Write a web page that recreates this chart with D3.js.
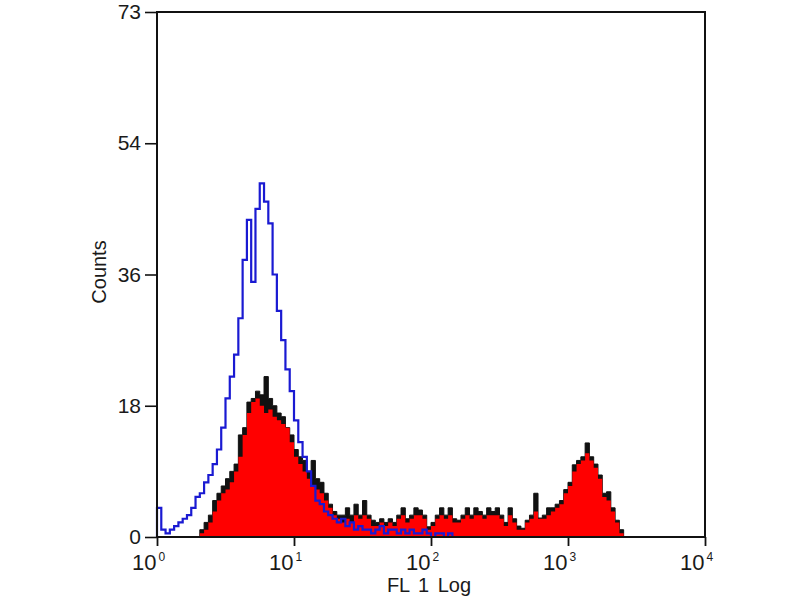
<!DOCTYPE html>
<html>
<head>
<meta charset="utf-8">
<script src="https://cdn.jsdelivr.net/npm/d3@7/dist/d3.min.js"></script>
<style>
  html, body { margin: 0; padding: 0; background: #fff; }
  svg text { font-family: "Liberation Sans", Arial, Helvetica, sans-serif; fill: #1a1a1a; }
</style>
</head>
<body>
<svg id="chart" width="800" height="600"></svg>
<script>
// ---- data (128 log-spaced channels over 10^0 .. 10^4) ----
const blueControl = [
  4,1,0.5,1,1.5,2,2.5,3,4,5.5,6,7.5,8.5,10,12,15,
  19,22,25,30,38,43.5,35,45,48.5,46,43,36,31,27,23,20,
  16,13,11,9,7,5,4.5,3.5,3,2.5,2,2.5,1.5,2,1,1.5,
  1,1,0.5,1,1.5,0.5,1,1,0.5,1,0.5,1,0.5,0.5,1,0.5,
  0,0.5,0.5,0,0.5,0,0,0,0,0,0,0,0,0,0,0,
  0,0,0,0,0,0,0,0,0,0,0,0,0,0,0,0,
  0,0,0,0,0,0,0,0,0,0,0,0,0,0,0,0,
  0,0,0,0,0,0,0,0,0,0,0,0,0,0,0,0
];
const redSample = [
  0,0,0,0,0,0,0,0,0,0,0.5,1,2,3.5,5,6,
  6.5,7.5,9,11,14,17,18.5,19,18,17,17.5,16.5,16,15.5,15,13,
  11,10,9,8,7,6.5,6,5,4,3,2.5,2,2.5,2,3,2.5,
  3,2.5,1.5,1.5,2,1.5,2,1.5,2.5,3,2,2.5,3,3,2.5,1,
  1.5,2.5,3,2.5,3,2,2,2.5,3,2.5,3,3,2.5,3,3,3,
  2.5,1.5,3,2,1,1,2,2.5,3.5,2.5,2.5,3,3.5,4,4.5,6,
  7,9,10,10.5,11.5,10.5,9.5,8,5.5,5,3.5,2,0.5,0,0,0,
  0,0,0,0,0,0,0,0,0,0,0,0,0,0,0,0
];
const blackOverlay = [
  0,0,0,0,0,0,0,0,0,0,1,2,3,5,6,7,
  8,9,10,14,15,18.5,19,20,19.5,22,19,18,17,16.5,15,14,
  12,11,10.5,9,10.5,8,7.5,6,4.5,3.5,3,3,4,3,4.5,3,
  5,3,2.3,2,2.5,2,2.5,2,3,4,2.5,3,4,3.7,3,1.4,
  2,3,4,3,4,2.5,2.3,3,4,3,4,3.5,3,4,3.5,4,
  3,2,4,2.5,1.5,1.2,2.3,3,6,2.6,3,4,4,4.5,5,6.5,
  7.5,9.9,10.5,11,12.9,11,10,8.5,6,6.2,4,2.3,1,0,0,0,
  0,0,0,0,0,0,0,0,0,0,0,0,0,0,0,0
];
const yTickValues = [0, 18, 36, 54, 72];
const yTickLabels = ["0", "18", "36", "54", "73"];
const xTickValues = [1, 10, 100, 1000, 10000];
const xTickExponents = ["0", "1", "2", "3", "4"];
const xTitle = "FL 1 Log";
const yTitle = "Counts";

// ---- layout ----
const L = 157, R = 705, T = 12, B = 537;
const svg = d3.select("#chart");
const x = d3.scaleLog().domain([1, 10000]).range([L, R]);
const y = d3.scaleLinear().domain([0, 72]).range([B, T]);
const N = blueControl.length;
const edge = i => Math.pow(10, 4 * i / N);

function stepPoints(vals) {
  const pts = [[x(edge(0)), y(0)]];
  vals.forEach((v, i) => pts.push([x(edge(i)), y(v)]));
  pts.push([x(edge(N)), y(vals[N - 1])]);
  return pts;
}

const area = d3.area()
  .x(d => d[0]).y0(y(0)).y1(d => d[1])
  .curve(d3.curveStepAfter);
const line = d3.line().curve(d3.curveStepAfter);

// black overlay histogram (filled, shows where it exceeds the red one)
svg.append("path")
  .attr("d", area(stepPoints(blackOverlay)))
  .attr("fill", "#111")
  .attr("stroke", "#111")
  .attr("stroke-width", 1);

// red filled histogram
svg.append("path")
  .attr("d", area(stepPoints(redSample)))
  .attr("fill", "#ff0000");

// blue control outline
svg.append("path")
  .attr("d", line(stepPoints(blueControl)))
  .attr("fill", "none")
  .attr("stroke", "#1a1ad2")
  .attr("stroke-width", 2.2);

// frame
svg.append("rect")
  .attr("x", L).attr("y", T)
  .attr("width", R - L).attr("height", B - T)
  .attr("fill", "none")
  .attr("stroke", "#111")
  .attr("stroke-width", 2);

// y axis
const yAxis = d3.axisLeft(y)
  .tickValues(yTickValues)
  .tickSize(12)
  .tickPadding(4)
  .tickFormat((d, i) => yTickLabels[i]);
const gy = svg.append("g").attr("transform", `translate(${L},0)`).call(yAxis);
gy.select(".domain").remove();
gy.selectAll(".tick line").attr("stroke", "#111").attr("stroke-width", 1.6);
gy.selectAll(".tick text").style("font-size", "21px").attr("fill", "#1a1a1a");

// x axis
const xAxis = d3.axisBottom(x)
  .tickValues(xTickValues)
  .tickSize(9)
  .tickFormat("");
const gx = svg.append("g").attr("transform", `translate(0,${B})`).call(xAxis);
gx.select(".domain").remove();
gx.selectAll(".tick line").attr("stroke", "#111").attr("stroke-width", 1.8);
gx.selectAll(".tick").each(function (d, i) {
  const g = d3.select(this);
  g.append("text")
    .attr("x", -1).attr("y", 33)
    .attr("text-anchor", "end")
    .style("font-size", "22px")
    .attr("fill", "#1a1a1a")
    .text("10");
  g.append("text")
    .attr("x", 1).attr("y", 24)
    .attr("text-anchor", "start")
    .style("font-size", "12px")
    .attr("fill", "#1a1a1a")
    .text(xTickExponents[i]);
});

// titles
svg.append("text")
  .attr("x", 429).attr("y", 592)
  .attr("text-anchor", "middle")
  .style("font-size", "20px")
  .style("word-spacing", "3px")
  .text(xTitle);
svg.append("text")
  .attr("transform", "translate(106,272) rotate(-90)")
  .attr("text-anchor", "middle")
  .style("font-size", "20px")
  .text(yTitle);
</script>
</body>
</html>
